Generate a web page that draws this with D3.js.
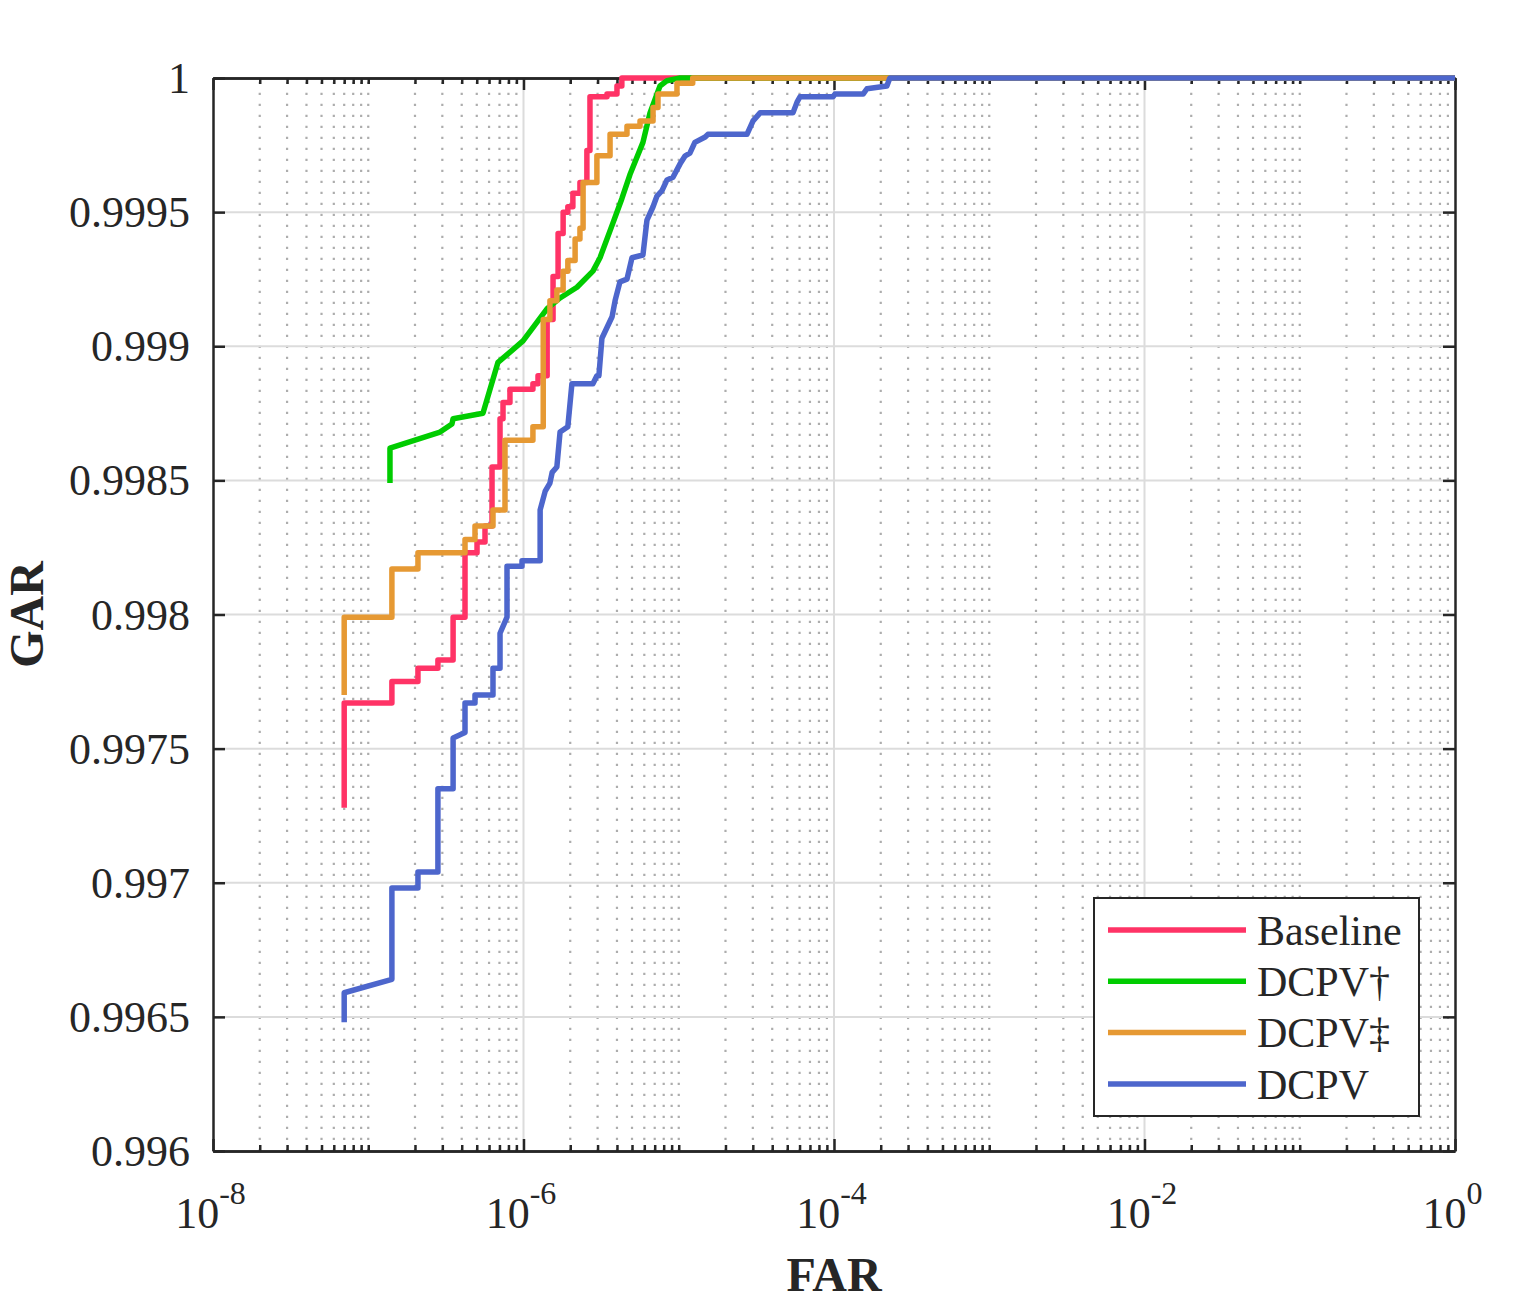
<!DOCTYPE html>
<html>
<head>
<meta charset="utf-8">
<script src="https://cdn.jsdelivr.net/npm/d3@7"></script>
<style>
  body { margin: 0; background: #fff; }
  svg text { font-family: "Liberation Serif", "Times New Roman", serif; fill: #262626; }
</style>
</head>
<body>
<div id="chart"></div>
<script>
// tick values / labels
var farTicks = [1e-8, 1e-6, 1e-4, 1e-2, 1];
var farExp = ["-8", "-6", "-4", "-2", "0"];
var garTicks = [0.996, 0.9965, 0.997, 0.9975, 0.998, 0.9985, 0.999, 0.9995, 1];
var garLabels = ["0.996", "0.9965", "0.997", "0.9975", "0.998", "0.9985", "0.999", "0.9995", "1"];

var seriesNames = ["Baseline", "DCPV\u2020", "DCPV\u2021", "DCPV"];
var seriesColors = ["#ff3366", "#00cc00", "#e69933", "#4d66cc"];

// [FAR, GAR]
var baseline = [[7.0e-8,0.99728],[7.0e-8,0.99767],[1.42e-7,0.99775],[2.09e-7,0.99780],[2.81e-7,0.99783],
  [3.52e-7,0.99799],[4.20e-7,0.99823],[5.02e-7,0.99827],[5.65e-7,0.99833],[6.27e-7,0.99855],[7.06e-7,0.99873],
  [7.38e-7,0.99879],[8.18e-7,0.99884],[1.15e-6,0.99886],[1.24e-6,0.99889],[1.42e-6,0.99910],[1.55e-6,0.99926],
  [1.67e-6,0.99942],[1.80e-6,0.99950],[1.93e-6,0.99952],[2.08e-6,0.99957],[2.31e-6,0.99961],[2.56e-6,0.99973],
  [2.68e-6,0.99993],[3.45e-6,0.99994],[4.00e-6,0.99997],[4.30e-6,1],[1,1]];

var dcpvDagger = [[1.38e-7,0.99849],[1.38e-7,0.99862],[2.90e-7,0.99868],[3.46e-7,0.99871],[3.52e-7,0.99873],
  [5.48e-7,0.99875],[6.85e-7,0.99894],[9.93e-7,0.99902],[1.42e-6,0.99914],[1.72e-6,0.99918],[2.21e-6,0.99922],
  [2.80e-6,0.99928],[3.11e-6,0.99933],[3.77e-6,0.99946],[4.30e-6,0.99955],[4.85e-6,0.99964],[5.88e-6,0.99976],
  [6.53e-6,0.99987],[7.03e-6,0.99992],[7.57e-6,0.99997],[8.40e-6,0.99999],[1.02e-5,1],[1,1]];

var dcpvDDagger = [[7.0e-8,0.99770],[7.0e-8,0.99799],[1.42e-7,0.99817],[2.09e-7,0.99823],[4.20e-7,0.99828],
  [4.87e-7,0.99833],[6.36e-7,0.99839],[7.60e-7,0.99865],[1.15e-6,0.99870],[1.34e-6,0.99910],[1.48e-6,0.99917],
  [1.64e-6,0.99921],[1.80e-6,0.99928],[1.93e-6,0.99932],[2.15e-6,0.99940],[2.31e-6,0.99944],[2.42e-6,0.99961],
  [2.97e-6,0.99971],[3.61e-6,0.99979],[4.64e-6,0.99982],[5.63e-6,0.99984],[6.83e-6,0.99989],[7.35e-6,0.99994],
  [9.74e-6,0.99998],[1.23e-5,1],[1,1]];

var dcpv = [[7.0e-8,0.99648],[7.0e-8,0.99659],[1.42e-7,0.99664],[1.42e-7,0.99698],[2.09e-7,0.99698],[2.09e-7,0.99704],
  [2.81e-7,0.99704],[2.81e-7,0.99735],[3.52e-7,0.99735],[3.52e-7,0.99754],[4.20e-7,0.99756],[4.20e-7,0.99767],
  [4.87e-7,0.99767],[4.87e-7,0.99770],[6.36e-7,0.99770],[6.36e-7,0.99780],[7.06e-7,0.99780],[7.06e-7,0.99793],
  [7.83e-7,0.99799],[7.83e-7,0.99818],[9.78e-7,0.99818],[9.78e-7,0.99820],[1.28e-6,0.99820],[1.28e-6,0.99839],
  [1.38e-6,0.99846],[1.48e-6,0.99849],[1.53e-6,0.99853],[1.64e-6,0.99855],[1.72e-6,0.99868],[1.93e-6,0.99870],
  [2.05e-6,0.99886],[2.80e-6,0.99886],[2.97e-6,0.99889],[3.06e-6,0.99889],[3.20e-6,0.99903],[3.45e-6,0.99907],
  [3.72e-6,0.99911],[3.89e-6,0.99917],[4.18e-6,0.99924],[4.64e-6,0.99925],[5.00e-6,0.99933],[5.88e-6,0.99934],
  [6.24e-6,0.99947],[6.83e-6,0.99952],[7.24e-6,0.99956],[7.80e-6,0.99958],[8.40e-6,0.99962],[9.18e-6,0.99963],
  [1.02e-5,0.99968],[1.10e-5,0.99971],[1.18e-5,0.99972],[1.27e-5,0.99976],[1.48e-5,0.99978],[1.54e-5,0.99979],
  [2.75e-5,0.99979],[3.01e-5,0.99984],[3.34e-5,0.99987],[5.44e-5,0.99987],[5.78e-5,0.99991],[6.04e-5,0.99993],
  [9.85e-5,0.99993],[1.015e-4,0.99994],[1.54e-4,0.99994],[1.63e-4,0.99996],[2.19e-4,0.99997],[2.29e-4,1],[1,1]];

var seriesData = [baseline, dcpvDagger, dcpvDDagger, dcpv];
var seriesCurve = [d3.curveStepAfter, d3.curveLinear, d3.curveStepAfter, d3.curveLinear];

var W = 1515, H = 1308;
var plotL = 213, plotR = 1455, plotT = 78, plotB = 1151;

var svg = d3.select("#chart").append("svg")
  .attr("width", W).attr("height", H);

var x = d3.scaleLog().domain([1e-8, 1]).range([plotL, plotR]);
var y = d3.scaleLinear().domain([0.996, 1]).range([plotB, plotT]);

// minor x positions: everything between the labelled decades
var minorX = [];
for (var e = -8; e < 0; e++) {
  for (var k = 1; k <= 9; k++) {
    if (k == 1 && e % 2 == 0) continue;
    minorX.push(k * Math.pow(10, e));
  }
}

// grid
var grid = svg.append("g");
grid.selectAll("line.minor").data(minorX).enter().append("line")
  .attr("x1", function(d){ return x(d); }).attr("x2", function(d){ return x(d); })
  .attr("y1", plotB).attr("y2", plotT)
  .attr("stroke", "#adadad").attr("stroke-width", 2.2)
  .attr("stroke-dasharray", "2.2,8.8");
grid.selectAll("line.vmaj").data(farTicks.slice(1, -1)).enter().append("line")
  .attr("x1", function(d){ return x(d); }).attr("x2", function(d){ return x(d); })
  .attr("y1", plotB).attr("y2", plotT)
  .attr("stroke", "#dcdcdc").attr("stroke-width", 2);
grid.selectAll("line.hmaj").data(garTicks.slice(1, -1)).enter().append("line")
  .attr("x1", plotL).attr("x2", plotR)
  .attr("y1", function(d){ return y(d); }).attr("y2", function(d){ return y(d); })
  .attr("stroke", "#dcdcdc").attr("stroke-width", 2);

// axes (ticks inward)
function styleAxis(g) {
  g.select(".domain").attr("stroke", "#262626").attr("stroke-width", 2.5);
  g.selectAll(".tick line").attr("stroke", "#262626").attr("stroke-width", 2.5);
}
svg.append("g").attr("transform", "translate(0," + plotB + ")")
  .call(d3.axisBottom(x).tickValues(minorX).tickSize(-6).tickSizeOuter(0).tickFormat(""))
  .call(styleAxis);
svg.append("g").attr("transform", "translate(0," + plotT + ")")
  .call(d3.axisTop(x).tickValues(minorX).tickSize(-6).tickSizeOuter(0).tickFormat(""))
  .call(styleAxis);
svg.append("g").attr("transform", "translate(0," + plotT + ")")
  .call(d3.axisTop(x).tickValues(farTicks).tickSize(-12).tickSizeOuter(0).tickFormat(""))
  .call(styleAxis);
svg.append("g").attr("transform", "translate(" + plotR + ",0)")
  .call(d3.axisRight(y).tickValues(garTicks).tickSize(-12).tickSizeOuter(0).tickFormat(""))
  .call(styleAxis);

var xAx = svg.append("g").attr("transform", "translate(0," + plotB + ")")
  .call(d3.axisBottom(x).tickValues(farTicks).tickSize(-12).tickSizeOuter(0).tickPadding(0).tickFormat(""))
  .call(styleAxis);
xAx.selectAll(".tick text").remove();
xAx.selectAll(".tick").append("text")
  .attr("x", -3).attr("y", 77).attr("text-anchor", "middle").attr("font-size", 44)
  .each(function(d, i) {
    var t = d3.select(this);
    t.append("tspan").text("10");
    t.append("tspan").attr("dy", -24).attr("font-size", 32).text(farExp[i]);
  });

var yAx = svg.append("g").attr("transform", "translate(" + plotL + ",0)")
  .call(d3.axisLeft(y).tickValues(garTicks).tickSize(-12).tickSizeOuter(0).tickPadding(23)
    .tickFormat(function(d, i){ return garLabels[i]; }))
  .call(styleAxis);
yAx.selectAll(".tick text").attr("font-size", 44).attr("fill", "#262626")
  .attr("font-family", "Liberation Serif").attr("dy", "0.33em");

// axis titles
svg.append("text").attr("x", (plotL + plotR) / 2).attr("y", 1291)
  .attr("text-anchor", "middle").attr("font-size", 48).attr("font-weight", "bold").text("FAR");
svg.append("text").attr("transform", "translate(43," + ((plotT + plotB) / 2) + ") rotate(-90)")
  .attr("text-anchor", "middle").attr("font-size", 48).attr("font-weight", "bold").text("GAR");

// curves
seriesData.forEach(function(data, i) {
  var line = d3.line()
    .x(function(d){ return x(d[0]); })
    .y(function(d){ return y(d[1]); })
    .curve(seriesCurve[i]);
  svg.append("path").datum(data)
    .attr("d", line)
    .attr("fill", "none")
    .attr("stroke", seriesColors[i])
    .attr("stroke-width", 5.5)
    .attr("stroke-linejoin", "round");
});

// legend
var lg = svg.append("g");
lg.append("rect").attr("x", 1094).attr("y", 898).attr("width", 325).attr("height", 218)
  .attr("fill", "#fff").attr("stroke", "#262626").attr("stroke-width", 2);
seriesNames.forEach(function(name, i) {
  var yy = 930 + i * 51.3;
  lg.append("line").attr("x1", 1108).attr("x2", 1246).attr("y1", yy).attr("y2", yy)
    .attr("stroke", seriesColors[i]).attr("stroke-width", 5.5);
  lg.append("text").attr("x", 1257).attr("y", yy).attr("dy", "0.35em")
    .attr("font-size", 42).attr("fill", "#000").text(name);
});
</script>
</body>
</html>
